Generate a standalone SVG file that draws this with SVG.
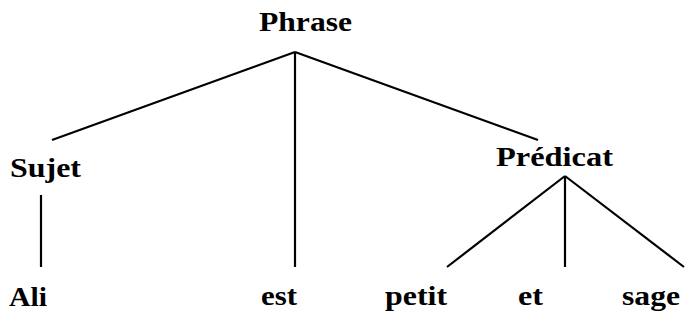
<svg xmlns="http://www.w3.org/2000/svg" width="685" height="323" viewBox="0 0 685 323">
<style>
.t{font-family:"Liberation Serif","Times New Roman",serif;font-weight:bold;font-size:27px;fill:#000}
.e{stroke:#000;stroke-width:2.2;fill:none}
</style>
<rect width="685" height="323" fill="#fff"/>
<g id="connectors">
<line class="e" x1="295" y1="52" x2="52" y2="140"/>
<line class="e" x1="295" y1="52" x2="538" y2="140"/>
<line class="e" x1="295" y1="52" x2="295" y2="267"/>
<line class="e" x1="41" y1="195" x2="41" y2="267"/>
<line class="e" x1="565" y1="176" x2="447" y2="267"/>
<line class="e" x1="565" y1="176" x2="565" y2="267"/>
<line class="e" x1="565" y1="176" x2="684" y2="267"/>
</g>
<g id="phrase"><text class="t" x="259" y="31" textLength="93" lengthAdjust="spacingAndGlyphs">Phrase</text></g>
<g id="sujet"><text class="t" x="10" y="177" textLength="71" lengthAdjust="spacingAndGlyphs">Sujet</text></g>
<g id="predicat"><text class="t" x="496" y="166" textLength="117" lengthAdjust="spacingAndGlyphs">Prédicat</text></g>
<g id="ali"><text class="t" x="9" y="306" textLength="38" lengthAdjust="spacingAndGlyphs">Ali</text></g>
<g id="est"><text class="t" x="261" y="305" textLength="36" lengthAdjust="spacingAndGlyphs">est</text></g>
<g id="petit"><text class="t" x="385" y="305" textLength="62" lengthAdjust="spacingAndGlyphs">petit</text></g>
<g id="et"><text class="t" x="518" y="305" textLength="25" lengthAdjust="spacingAndGlyphs">et</text></g>
<g id="sage"><text class="t" x="622" y="305" textLength="58" lengthAdjust="spacingAndGlyphs">sage</text></g>
</svg>
